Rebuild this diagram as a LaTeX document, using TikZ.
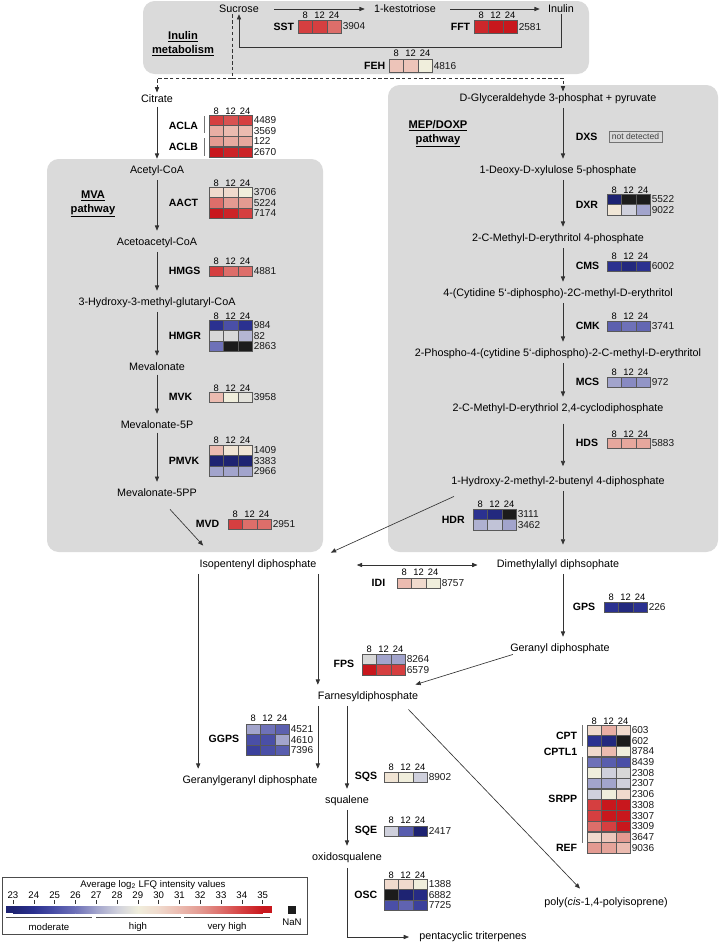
\documentclass[tikz,border=0pt]{standalone}
\usepackage{fontspec}
\setmainfont{Liberation Sans}
\usetikzlibrary{arrows.meta, calc}

\definecolor{k23}{HTML}{1E2372}
\definecolor{k24}{HTML}{2B3190}
\definecolor{k25}{HTML}{4A4FA7}
\definecolor{k26}{HTML}{6E71B8}
\definecolor{k27}{HTML}{A2A4CC}
\definecolor{k28}{HTML}{CFD0DC}
\definecolor{k28g}{HTML}{D8D8D8}
\definecolor{k29}{HTML}{F0EEDC}
\definecolor{k30}{HTML}{F0DACD}
\definecolor{k31}{HTML}{EBBBB0}
\definecolor{k32}{HTML}{E39A91}
\definecolor{k33}{HTML}{DD6E6A}
\definecolor{k34}{HTML}{D53F40}
\definecolor{k35}{HTML}{C8171D}
\definecolor{nan}{HTML}{1C1C1C}
\definecolor{panelgray}{HTML}{DADADA}

\newcommand{\hhead}[3]{%
  \node[hd] (#1-a) at ({#2+7.2},#3) {8};
  \node[hd] (#1-b) at ({#2+21.6},#3) {12};
  \node[hd] (#1-c) at ({#2+36},#3) {24};}
\newcommand{\hrow}[6][10.4]{%
  \foreach \c [count=\i from 0] in {#5}
    \draw[cell, fill=\c] ({#3+\i*14.4},{#4-#1/2}) rectangle ++(14.4,#1);
  \node[num] (#2) at ({#3+44.2},#4) {#6};}

\begin{document}
\begin{tikzpicture}[x=0.03cm, y=-0.03cm,
  met/.style={font=\fontsize{9.2}{11}\selectfont, inner sep=1pt},
  enz/.style={font=\fontsize{9}{11}\selectfont\bfseries, inner sep=0.5pt},
  num/.style={font=\fontsize{8.6}{10}\selectfont, anchor=west, inner sep=0.3pt, text=black!90},
  hd/.style={font=\fontsize{8}{9}\selectfont, inner sep=0pt},
  cell/.style={draw=black!65, line width=0.45pt},
  panel/.style={fill=panelgray, rounded corners=0.35cm},
  arr/.style={-{Triangle[length=4.5pt, width=3.6pt]}, draw=black!80, line width=0.55pt},
  chain/.style={arr, shorten <=2pt, shorten >=5pt},
  darr/.style={arrows={Triangle[length=4.5pt, width=3.6pt]-Triangle[length=4.5pt, width=3.6pt]}, draw=black!80, line width=0.55pt},
  dsh/.style={dashed, dash pattern=on 3pt off 2pt, draw=black!80, line width=0.55pt},
  brk/.style={draw=black!55, line width=0.6pt},
  pwy/.style={font=\fontsize{9.5}{12}\selectfont\bfseries, align=center},
  lg/.style={font=\fontsize{8.2}{10}\selectfont, inner sep=0.5pt}
]
\useasboundingbox (0,0) rectangle (722,943);

\fill[panel] (143,1) rectangle (589,74);
\fill[panel] (47,159) rectangle (323,552);
\fill[panel] (388,85) rectangle (718,552);

\node[pwy] (inulab) at (183,44) {\underline{Inulin}\\\underline{metabolism}};
\node[pwy] (mvalab) at (93,204) {\underline{MVA}\\\underline{pathway}};
\node[pwy] (meplab) at (438,134) {\underline{MEP/DOXP}\\\underline{pathway}};

% inulin metabolism
\node[met] (suc) at (239,9) {Sucrose};
\node[met] (kes) at (405,9) {1-kestotriose};
\node[met] (inu) at (561,9) {Inulin};
\draw[arr] ($(suc.east)+(14,0)$) -- ($(kes.west)+(-8,0)$);
\draw[arr] ($(kes.east)+(13,0)$) -- ($(inu.west)+(-7,0)$);
\draw[arr] (inu.south) -- ++(0,33) -| (suc.south);
\hhead{sst}{298}{15}
\hrow[13]{sstv}{298}{26.5}{k34,k34,k33}{3904}
\node[enz, anchor=east] (sst) at (295,26.5) {SST};
\hhead{fft}{474}{15}
\hrow[13]{fftv}{474}{27}{k34!40!k35,k35,k35}{2581}
\node[enz, anchor=east] (fft) at (471,27) {FFT};
\hhead{feh}{389}{53}
\hrow[13]{fehv}{389}{66}{k31!70!k30,k31!70!k30,k29}{4816}
\node[enz, anchor=east] (feh) at (386,66) {FEH};

% MVA pathway
\node[met] (cit) at (157,99) {Citrate};
\node[met] (acoa) at (157,171) {Acetyl-CoA};
\node[met] (aacoa) at (157,243) {Acetoacetyl-CoA};
\node[met] (hmgcoa) at (157,303) {3-Hydroxy-3-methyl-glutaryl-CoA};
\node[met] (mev) at (157,367) {Mevalonate};
\node[met] (mev5p) at (157,425) {Mevalonate-5P};
\node[met] (mev5pp) at (157,493) {Mevalonate-5PP};
\draw[chain] (cit) -- (acoa);
\draw[chain] (acoa) -- (aacoa);
\draw[chain] (aacoa) -- (hmgcoa);
\draw[chain] (hmgcoa) -- (mev);
\draw[chain] (mev) -- (mev5p);
\draw[chain] (mev5p) -- (mev5pp);

\hhead{acl}{209}{111}
\hrow{acla1}{209}{120}{k34,k34!60!k33,k34}{4489}
\hrow{acla2}{209}{130.7}{k31!60!k32,k31,k31}{3569}
\hrow{aclb1}{209}{141.4}{k32,k31!50!k32,k32!60!k31}{122}
\hrow{aclb2}{209}{152.1}{k35,k35!70!k34,k35!70!k34}{2670}
\node[enz, anchor=west] (acla) at (168,126) {ACLA};
\node[enz, anchor=west] (aclb) at (168,147) {ACLB};
\draw[brk] (204,116) -- (204,133);
\draw[brk] (204,138) -- (204,156);

\hhead{aact}{209}{183}
\hrow{aact1}{209}{192}{k30,k30,k29}{3706}
\hrow{aact2}{209}{202.7}{k33,k32,k32}{5224}
\hrow{aact3}{209}{213.4}{k35,k35!70!k34,k34}{7174}
\node[enz, anchor=west] (aact) at (168,203) {AACT};

\hhead{hmgs}{209}{261}
\hrow{hmgs1}{209}{271}{k34,k33,k33}{4881}
\node[enz, anchor=west] (hmgs) at (168,271) {HMGS};

\hhead{hmgr}{209}{316}
\hrow{hmgr1}{209}{325}{k24,k25,k24}{984}
\hrow{hmgr2}{209}{335.7}{k28g,k28g,k27!60!k28}{82}
\hrow{hmgr3}{209}{346.4}{k26,nan,nan}{2863}
\node[enz, anchor=west] (hmgr) at (168,336) {HMGR};

\hhead{mvk}{209}{388}
\hrow{mvk1}{209}{397}{k31,k29,k28g!60!k29}{3958}
\node[enz, anchor=west] (mvk) at (168,397) {MVK};

\hhead{pmvk}{209}{440}
\hrow{pmvk1}{209}{450}{k31,k29!50!k30,k29!50!k30}{1409}
\hrow{pmvk2}{209}{460.7}{k23,k23,k23}{3383}
\hrow{pmvk3}{209}{471.4}{k27,k27,k27}{2966}
\node[enz, anchor=west] (pmvk) at (168,461) {PMVK};

\hhead{mvd}{228}{514}
\hrow{mvd1}{228}{524}{k34,k33,k33}{2951}
\node[enz, anchor=east] (mvd) at (220,524) {MVD};

% MEP/DOXP pathway
\coordinate (mepaxis) at (563,0);
\node[met] (gap) at (558,99) {D-Glyceraldehyde 3-phosphat + pyruvate};
\node[met] (dxp) at (558,171) {1-Deoxy-D-xylulose 5-phosphate};
\node[met] (mep) at (558,239) {2-C-Methyl-D-erythritol 4-phosphate};
\node[met] (cdpme) at (558,294) {4-(Cytidine 5‘-diphospho)-2C-methyl-D-erythritol};
\node[met] (cdpmep) at (558,354) {2-Phospho-4-(cytidine 5‘-diphospho)-2-C-methyl-D-erythritol};
\node[met] (mecpp) at (558,409) {2-C-Methyl-D-erythriol 2,4-cyclodiphosphate};
\node[met] (hmbpp) at (558,482) {1-Hydroxy-2-methyl-2-butenyl 4-diphosphate};
\draw[chain] (gap.south -| mepaxis) -- (dxp.north -| mepaxis);
\draw[chain] (dxp.south -| mepaxis) -- (mep.north -| mepaxis);
\draw[chain] (mep.south -| mepaxis) -- (cdpme.north -| mepaxis);
\draw[chain] (cdpme.south -| mepaxis) -- (cdpmep.north -| mepaxis);
\draw[chain] (cdpmep.south -| mepaxis) -- (mecpp.north -| mepaxis);
\draw[chain, shorten <=7pt, shorten >=8pt] (mecpp.south -| mepaxis) -- (hmbpp.north -| mepaxis);

% sucrose feeds both pathways
\coordinate (fork) at (232,78);
\draw[dsh] (suc.south -| fork) -- (fork);
\draw[dsh, arr, shorten >=1pt] (fork) -| (cit.north);
\draw[dsh, arr, shorten >=1pt] (fork) -| (gap.north -| mepaxis);

\node[enz, anchor=west] (dxs) at (575,137) {DXS};
\node[draw=black!55, line width=0.4pt, font=\fontsize{7.3}{8}\selectfont, text=black!75,
  inner xsep=2.5pt, inner ysep=2pt] (dxsnd) at (635.5,136.5) {not detected};

\hhead{dxr}{607}{190}
\hrow{dxr1}{607}{199}{k23,nan,nan}{5522}
\hrow{dxr2}{607}{209.7}{k29!60!k30,k28,k27}{9022}
\node[enz, anchor=west] (dxr) at (575,205) {DXR};

\hhead{cms}{607}{256}
\hrow{cms1}{607}{266}{k24,k23!60!k24,k24}{6002}
\node[enz, anchor=west] (cms) at (575,266) {CMS};

\hhead{cmk}{607}{316}
\hrow{cmk1}{607}{326}{k25!50!k26,k26,k26!70!k25}{3741}
\node[enz, anchor=west] (cmk) at (575,326) {CMK};

\hhead{mcs}{607}{372}
\hrow{mcs1}{607}{382}{k27,k26!50!k27,k27!70!k26}{972}
\node[enz, anchor=west] (mcs) at (575,382) {MCS};

\hhead{hds}{607}{434}
\hrow{hds1}{607}{443}{k32!60!k31,k32!60!k31,k32!60!k31}{5883}
\node[enz, anchor=west] (hds) at (575,443) {HDS};

\hhead{hdr}{473}{504}
\hrow{hdr1}{473}{514}{k24,k23!60!k24,nan}{3111}
\hrow{hdr2}{473}{524.7}{k27!70!k28,k28!70!k27,k27}{3462}
\node[enz, anchor=west] (hdr) at (441,520) {HDR};

% lower part
\node[met] (ipp) at (258,565) {Isopentenyl diphosphate};
\node[met] (dmapp) at (558,565) {Dimethylallyl diphsophate};
\node[met] (gdp) at (560,649) {Geranyl diphosphate};
\node[met] (fdp) at (368,697) {Farnesyldiphosphate};
\node[met] (ggdp) at (250,781) {Geranylgeranyl diphosphate};
\node[met] (sq) at (347,801) {squalene};
\node[met] (oxs) at (347,858) {oxidosqualene};
\node[met, anchor=west] (ptt) at (418,937) {pentacyclic triterpenes};
\node[met] (poly) at (606,903) {poly(\textit{cis}-1,4-polyisoprene)};

\draw[arr] ($(mev5pp.south)+(13,11)$) -- ($(ipp.north west)+(5,-13)$);
\draw[arr] ($(hmbpp.south west)+(4,8)$) -- ($(ipp.north east)+(13,-6)$);
\draw[arr, shorten <=2pt] (hmbpp.south -| mepaxis) -- ($(dmapp.north -| mepaxis)+(0,-14)$);
\draw[darr] ($(ipp.east)+(39,0)$) -- ($(dmapp.west)+(-18,0)$);
\draw[chain] (dmapp.south -| mepaxis) -- (gdp.north -| mepaxis);
\draw[arr] ($(gdp.south west)+(4,-1)$) -- ($(fdp.north east)+(-4,-6)$);
\draw[chain] (ipp.south west) -- (ipp.south west |- ggdp.north);
\draw[chain] (ipp.south east) -- (ipp.south east |- fdp.north);
\draw[chain] (fdp.south -| ipp.south east) -- (ggdp.north -| ipp.south east);
\draw[chain] (fdp.south -| sq.north) -- (sq.north);
\draw[chain] (sq) -- (oxs);
\draw[arr, shorten <=3pt] (oxs.south) |- ($(ptt.west)+(-9,0)$);
\draw[arr] ($(fdp.south east)+(-11,6)$) -- ($(poly.north)+(-26,-8)$);

\hhead{idi}{397}{572}
\hrow{idi1}{397}{583}{k31,k30,k29}{8757}
\node[enz, anchor=east] (idi) at (386,583) {IDI};

\hhead{gps}{604}{597}
\hrow{gps1}{604}{607}{k24,k23!60!k24,k24}{226}
\node[enz, anchor=east] (gps) at (596,607) {GPS};

\hhead{fps}{362}{649}
\hrow{fps1}{362}{659}{k28g,k27,k27}{8264}
\hrow{fps2}{362}{669.7}{k35,k34,k34}{6579}
\node[enz, anchor=east] (fps) at (355,664) {FPS};

\hhead{ggps}{246}{718}
\hrow{ggps1}{246}{729}{k27,k26,k25!50!k26}{4521}
\hrow{ggps2}{246}{739.7}{k25,k25,k27}{4610}
\hrow{ggps3}{246}{750.4}{k24!50!k25,k25,k25!60!k26}{7396}
\node[enz, anchor=east] (ggps) at (240,739) {GGPS};

\hhead{sqs}{384}{767}
\hrow{sqs1}{384}{777}{k29!50!k30,k29,k28}{8902}
\node[enz, anchor=east] (sqs) at (378,777) {SQS};

\hhead{sqe}{384}{820}
\hrow{sqe1}{384}{831}{k28,k25!60!k26,k23}{2417}
\node[enz, anchor=east] (sqe) at (378,831) {SQE};

\hhead{osc}{384}{875}
\hrow{osc1}{384}{884}{k30,k30,k29}{1388}
\hrow{osc2}{384}{894.7}{nan,k23,k24!60!k23}{6882}
\hrow{osc3}{384}{905.4}{k25,k26!60!k25,k24!50!k25}{7725}
\node[enz, anchor=east] (osc) at (378,895) {OSC};

% rubber
\hhead{rub}{587}{721}
\hrow{cpt1}{587}{730}{k30,k31!60!k32,k30}{603}
\hrow{cpt2}{587}{740.7}{k24,k23!60!k24,nan}{602}
\hrow{cptl1}{587}{751.4}{k30,k31,k29}{8784}
\hrow{srpp1}{587}{762.1}{k26,k25!60!k26,k25}{8439}
\hrow{srpp2}{587}{772.8}{k29,k28,k28g}{2308}
\hrow{srpp3}{587}{783.5}{k27,k27,k28}{2307}
\hrow{srpp4}{587}{794.2}{k28,k29,k30}{2306}
\hrow{srpp5}{587}{804.9}{k34,k35,k35}{3308}
\hrow{srpp6}{587}{815.6}{k34,k35,k35}{3307}
\hrow{srpp7}{587}{826.3}{k33,k34,k35}{3309}
\hrow{srpp8}{587}{837}{k30,k31!60!k30,k32}{3647}
\hrow{ref1}{587}{847.7}{k32,k32!70!k31,k31}{9036}
\node[enz, anchor=east] (cpt) at (578,735.5) {CPT};
\node[enz, anchor=east] (cptl) at (578,751.4) {CPTL1};
\node[enz, anchor=east] (srpp) at (578,799) {SRPP};
\node[enz, anchor=east] (ref) at (578,847.7) {REF};
\draw[brk] (582,725) -- (582,746);
\draw[brk] (582,757) -- (582,843);

% legend
\draw[black!70, line width=0.6pt] (2,877) rectangle (307,934);
\node[lg] (lgtitle) at (153,885) {Average log\textsubscript{2} LFQ intensity values};
\foreach \v [count=\i from 0] in {23,...,35} {
  \node[lg] (lg\v) at ({13+\i*20.8},895) {\v};
  \draw[black!80, line width=0.5pt] ({13+\i*20.8},900) -- ({13+\i*20.8},904);
}
\fill[k23] (6,906) rectangle (13,913);
\foreach \a/\b [count=\i from 0] in {k23/k24,k24/k25,k25/k26,k26/k27,k27/k28,k28/k29,
    k29/k30,k30/k31,k31/k32,k32/k33,k33/k34,k34/k35}
  \shade[left color=\a, right color=\b] ({13+\i*20.8},906) rectangle ({13+(\i+1)*20.8+0.3},913);
\fill[k35] (262.6,906) rectangle (272,913);
\draw[black!70, line width=0.6pt] (6,917) -- (92,917);
\draw[black!70, line width=0.6pt] (96,917) -- (181,917);
\draw[black!70, line width=0.6pt] (184,917) -- (270,917);
\node[lg] (lgmod) at (49,927) {moderate};
\node[lg] (lghigh) at (138,927) {high};
\node[lg] (lgvhigh) at (227,927) {very high};
\fill[nan] (288,906) rectangle (296,914);
\node[lg] (lgnan) at (292,922) {NaN};
\end{tikzpicture}
\end{document}
